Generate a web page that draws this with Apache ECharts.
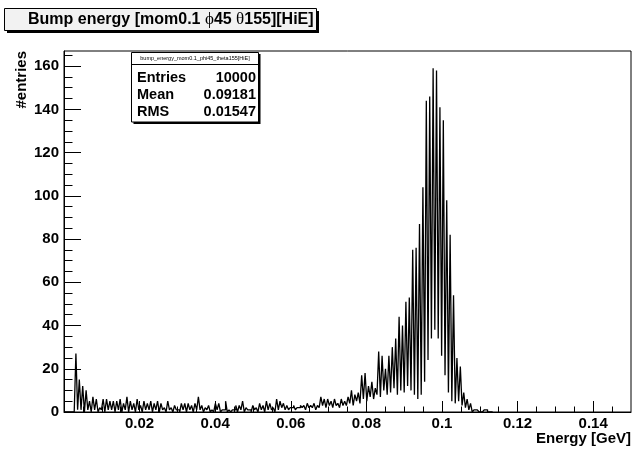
<!DOCTYPE html>
<html>
<head>
<meta charset="utf-8">
<script src="https://cdn.jsdelivr.net/npm/echarts@6/dist/echarts.min.js"></script>
<style>
  html, body { margin: 0; padding: 0; background: #fff; }
  #chart { width: 635px; height: 452px; }
</style>
</head>
<body>
<div id="chart"></div>
<script>
// Histogram binning: fixed-width bins starting at binStart (GeV)
const binStart = 0;
const binWidth = 0.00045;

// Bin contents (#entries per bin), bin 0 upward
const counts = [
  0, 0, 0, 0, 0, 0, 0, 27, 1, 15, 1, 12, 0, 10, 1, 5, 0, 7, 1, 6,
  0, 2, 1, 6, 0, 6, 1, 5, 1, 5, 0, 5, 1, 6, 0, 4, 1, 7, 0, 5,
  1, 4, 0, 6, 1, 3, 0, 5, 1, 4, 1, 5, 0, 4, 1, 5, 0, 4, 1, 2,
  0, 5, 1, 2, 0, 3, 1, 1, 0, 4, 1, 4, 0, 4, 1, 3, 0, 4, 1, 7,
  1, 3, 0, 2, 1, 3, 0, 1, 0, 4, 1, 4, 0, 1, 1, 5, 0, 1, 0, 1,
  1, 3, 0, 3, 1, 5, 0, 2, 1, 1, 0, 3, 1, 2, 0, 4, 1, 3, 0, 5,
  1, 4, 1, 2, 0, 6, 1, 5, 2, 4, 1, 3, 1, 2, 2, 3, 1, 2, 2, 3,
  2, 3, 1, 4, 2, 3, 2, 4, 1, 3, 2, 7, 3, 6, 2, 6, 3, 5, 2, 6,
  3, 4, 2, 6, 3, 5, 3, 7, 4, 10, 3, 8, 5, 9, 4, 17, 6, 18, 5, 12,
  7, 14, 6, 11, 8, 28, 7, 26, 10, 20, 8, 26, 9, 30, 11, 34, 8, 44, 10, 40,
  9, 51, 12, 53, 10, 75, 8, 76, 6, 87, 8, 104, 14, 144, 24, 146, 34, 159, 38, 158,
  34, 141, 26, 135, 17, 98, 9, 82, 5, 54, 4, 25, 5, 21, 3, 9, 2, 6, 1, 4,
  0, 1, 1, 1, 0, 0, 0, 1, 1, 0, 0, 0
];

// Axis ranges and tick marks
const xRange = [0, 0.15];
const yRange = [0, 167];
const xTickLabels = [0.02, 0.04, 0.06, 0.08, 0.1, 0.12, 0.14];
const xMajorTicks = [0, 0.02, 0.04, 0.06, 0.08, 0.1, 0.12, 0.14];
const xMinorTicks = [0.005, 0.01, 0.015, 0.025, 0.03, 0.035, 0.045, 0.05, 0.055,
  0.065, 0.07, 0.075, 0.085, 0.09, 0.095, 0.105, 0.11, 0.115, 0.125, 0.13, 0.135, 0.145];
const yTickLabels = [0, 20, 40, 60, 80, 100, 120, 140, 160];
const yMinorTicks = [5, 10, 15, 25, 30, 35, 45, 50, 55, 65, 70, 75, 85, 90, 95,
  105, 110, 115, 125, 130, 135, 145, 150, 155, 165];

// Text content
const titleParts = ['Bump energy [mom0.1 ', '\u03D5', '45 ', '\u03B8', '155][HiE]'];
const xTitle = 'Energy [GeV]';
const yTitle = '#entries';
const statsName = 'bump_energy_mom0.1_phi45_theta155[HiE]';
const statsRows = [['Entries', '10000'], ['Mean', '0.09181'], ['RMS', '0.01547']];

// Step-line points: left bin edges plus the closing upper edge
const histPoints = counts.map((c, i) => [binStart + i * binWidth, c]);
histPoints.push([binStart + counts.length * binWidth, 0]);

const FONT = 'Liberation Sans, Arial, Helvetica, sans-serif';
const G = { left: 64, right: 4, top: 51, bottom: 40 };

const chart = echarts.init(document.getElementById('chart'), null, { renderer: 'canvas' });

const labelStyle = { color: '#000', fontFamily: FONT, fontWeight: 'bold', fontSize: 15 };

const option = {
  backgroundColor: '#fff',
  animation: false,
  grid: {
    left: G.left, right: G.right, top: G.top, bottom: G.bottom,
    show: true, borderColor: '#000', borderWidth: 1, backgroundColor: '#fff'
  },
  xAxis: [
    {
      type: 'value', min: xRange[0], max: xRange[1],
      axisLine: { show: true, onZero: false, lineStyle: { color: '#000', width: 1 } },
      axisTick: { show: true, inside: true, length: 11, customValues: xMajorTicks,
                  lineStyle: { color: '#000', width: 1 } },
      axisLabel: Object.assign({ show: true, margin: 4, customValues: xTickLabels,
                  formatter: v => String(v) }, labelStyle),
      splitLine: { show: false }
    },
    {
      type: 'value', min: xRange[0], max: xRange[1], position: 'bottom',
      axisLine: { show: false },
      axisTick: { show: true, inside: true, length: 5.5, customValues: xMinorTicks,
                  lineStyle: { color: '#000', width: 1 } },
      axisLabel: { show: false },
      splitLine: { show: false }
    }
  ],
  yAxis: [
    {
      type: 'value', min: yRange[0], max: yRange[1],
      axisLine: { show: true, onZero: false, lineStyle: { color: '#000', width: 1 } },
      axisTick: { show: true, inside: true, length: 17, customValues: yTickLabels,
                  lineStyle: { color: '#000', width: 1 } },
      axisLabel: Object.assign({ show: true, margin: 5, customValues: yTickLabels }, labelStyle),
      splitLine: { show: false }
    },
    {
      type: 'value', min: yRange[0], max: yRange[1], position: 'left',
      axisLine: { show: false },
      axisTick: { show: true, inside: true, length: 8.5, customValues: yMinorTicks,
                  lineStyle: { color: '#000', width: 1 } },
      axisLabel: { show: false },
      splitLine: { show: false }
    }
  ],
  series: [{
    type: 'line',
    xAxisIndex: 0, yAxisIndex: 0,
    step: 'end',
    data: histPoints,
    showSymbol: false,
    symbol: 'none',
    clip: true,
    silent: true,
    lineStyle: { color: '#000', width: 1.3 }
  }],
  graphic: [
    // title box with drop shadow
    { type: 'rect', shape: { x: 7, y: 11, width: 312, height: 22 }, style: { fill: '#000' }, z: 10 },
    { type: 'rect', shape: { x: 4.5, y: 8.5, width: 312, height: 22 },
      style: { fill: '#f2f2f2', stroke: '#000', lineWidth: 1 }, z: 11 },
    { type: 'text', x: 28, y: 20, z: 12,
      style: {
        text: '{b|' + titleParts[0] + '}{s|' + titleParts[1] + '}{b|' + titleParts[2] + '}{s|' +
              titleParts[3] + '}{b|' + titleParts[4] + '}',
        verticalAlign: 'middle', align: 'left',
        rich: {
          b: { fontFamily: FONT, fontWeight: 'bold', fontSize: 16, fill: '#000' },
          s: { fontFamily: 'Liberation Serif, DejaVu Serif, serif', fontWeight: 'normal', fontSize: 17, fill: '#000' }
        }
      } },
    // statistics box
    { type: 'rect', shape: { x: 133.5, y: 54, width: 127, height: 70 }, style: { fill: '#000' }, z: 10 },
    { type: 'rect', shape: { x: 131.5, y: 52.5, width: 127, height: 69.5 },
      style: { fill: '#fff', stroke: '#000', lineWidth: 1 }, z: 11 },
    { type: 'line', shape: { x1: 131.5, y1: 64.5, x2: 258.5, y2: 64.5 },
      style: { stroke: '#000', lineWidth: 1 }, z: 12 },
    { type: 'text', x: 195, y: 58.5, z: 12,
      style: { text: statsName, align: 'center', verticalAlign: 'middle',
               fontFamily: FONT, fontSize: 5.5, fill: '#000' } },
    ...statsRows.flatMap((row, k) => [
      { type: 'text', x: 137, y: 78 + k * 17, z: 12,
        style: { text: row[0], align: 'left', verticalAlign: 'middle',
                 fontFamily: FONT, fontWeight: 'bold', fontSize: 14.5, fill: '#000' } },
      { type: 'text', x: 256, y: 78 + k * 17, z: 12,
        style: { text: row[1], align: 'right', verticalAlign: 'middle',
                 fontFamily: FONT, fontWeight: 'bold', fontSize: 14.5, fill: '#000' } }
    ]),
    // axis titles
    { type: 'text', x: 631, y: 439, z: 12,
      style: { text: xTitle, align: 'right', verticalAlign: 'middle',
               fontFamily: FONT, fontWeight: 'bold', fontSize: 15, fill: '#000' } },
    { type: 'text', x: 22, y: 51, rotation: Math.PI / 2, z: 12,
      style: { text: yTitle, align: 'right', verticalAlign: 'middle',
               fontFamily: FONT, fontWeight: 'bold', fontSize: 15, fill: '#000' } }
  ]
};

chart.setOption(option);
</script>
</body>
</html>
